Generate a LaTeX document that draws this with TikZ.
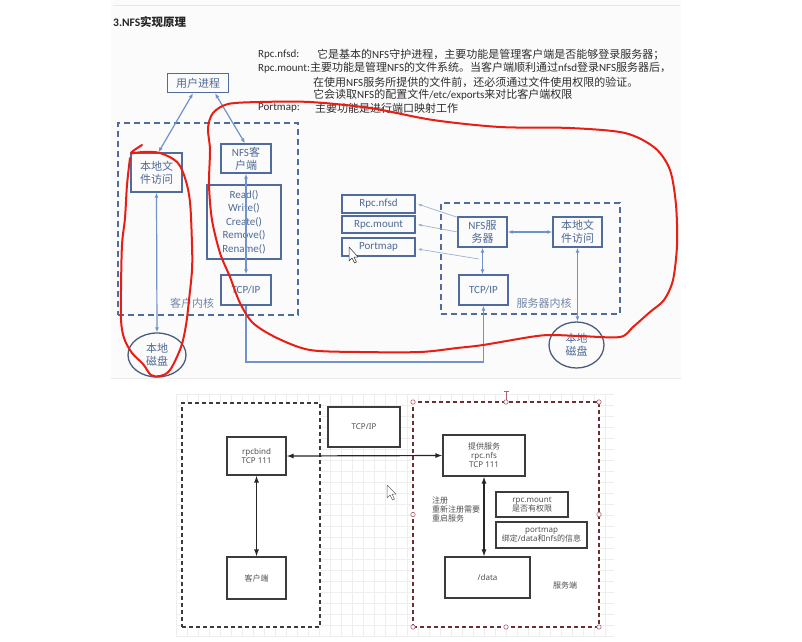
\documentclass[tikz,border=0pt]{standalone}
\usepackage{fontspec}
\setmainfont{Carlito}
\newfontfamily\cjkf{Noto Sans CJK SC}
\newfontfamily\nsf{Noto Sans}
\newcommand\zh[1]{{\cjkf #1}}
\usetikzlibrary{arrows.meta,shapes.geometric,calc}
\definecolor{tblue}{HTML}{4F6C9C}
\definecolor{ttext}{HTML}{4E6A96}
\definecolor{tline}{HTML}{6F93CA}
\definecolor{tthin}{HTML}{9DB2D2}
\definecolor{ellc}{HTML}{4B5D7D}
\definecolor{ktext}{HTML}{7386A6}
\definecolor{redpen}{HTML}{E81E14}
\definecolor{dgrey}{HTML}{3C3C3C}
\definecolor{gridc}{HTML}{EEEEEE}
\definecolor{selred}{HTML}{6A2E34}
\definecolor{handc}{HTML}{B06070}
\definecolor{txtg}{HTML}{505050}
\definecolor{topbg}{HTML}{FBFBFB}
\definecolor{topline}{HTML}{E0E8EE}
\begin{document}
\begin{tikzpicture}[x=1pt,y=-1pt,
  txt/.style={inner sep=0pt, text=black!82, font=\fontsize{11}{13}\selectfont},
  tbox/.style={draw=tblue, line width=1.4pt, inner sep=1pt, text=ttext, align=center, font=\fontsize{11}{13}\selectfont},
  tdisk/.style={draw=ellc, ellipse, line width=1.3pt, inner sep=0pt, text=ttext, align=center, font=\fontsize{11}{13}\selectfont},
  kern/.style={draw=tblue, line width=1.5pt, dash pattern=on 6pt off 4pt, inner sep=0pt},
  klab/.style={text=ktext, font=\fontsize{11}{13}\selectfont, inner sep=0pt},
  tarr/.style={draw=tline, line width=1.2pt, >={Latex[length=5pt,width=4pt]}},
  tthinarr/.style={draw=tthin, line width=0.7pt, ->, >={Latex[length=4pt,width=3pt]}},
  bbox/.style={draw=dgrey, line width=1.1pt, fill=white, inner sep=1pt, text=txtg, align=center, font=\nsf\fontsize{8}{9}\selectfont},
  barr/.style={<->, draw=black!85, line width=1.2pt, >={Latex[length=7pt,width=5pt]}},
  pen/.style={draw=redpen, line width=2pt, line cap=round, line join=round},
  cursor/.style={draw=black!80, fill=white, line width=0.5pt, line join=round}
]
\useasboundingbox (0,0) rectangle (802,641);
\fill[white] (0,0) rectangle (802,641);
% top screenshot
\fill[topbg] (111,0) rectangle (681,378);
\draw[topline] (113,5) -- (680,5);
\draw[black!8, line width=1pt] (111,378) -- (681,378);

\node[anchor=west, inner sep=0pt, text=black!85, font=\fontsize{11.5}{13}\selectfont\bfseries] (title) at (113,22) {3.NFS\zh{实现原理}};

\node[txt, anchor=west] (l1a) at (258,55) {Rpc.nfsd:};
\node[txt, anchor=west] (l1b) at (317,55) {\zh{它是基本的}NFS\zh{守护进程，主要功能是管理客户端是否能够登录服务器；}};
\node[txt, anchor=west] (l2) at (258,68) {Rpc.mount:\zh{主要功能是管理}NFS\zh{的文件系统。当客户端顺利通过}nfsd\zh{登录}NFS\zh{服务器后，}};
\node[txt, anchor=west] (l3) at (313,82) {\zh{在使用}NFS\zh{服务所提供的文件前，还必须通过文件使用权限的验证。}};
\node[txt, anchor=west] (l4) at (313,95) {\zh{它会读取}NFS\zh{的配置文件}/etc/exports\zh{来对比客户端权限}};
\node[txt, anchor=west] (l5a) at (258,108) {Portmap:};
\node[txt, anchor=west] (l5b) at (315,108) {\zh{主要功能是进行端口映射工作}};

% client side
\node[kern, minimum width=180, minimum height=192] (ck) at (208,219) {};
\node[klab] (cklab) at (192,303) {\zh{客户内核}};
\node[tbox, minimum width=61, minimum height=19] (user) at (198,83) {\zh{用户进程}};
\node[tbox, minimum width=51, minimum height=39] (lfa) at (156.5,172.5) {\zh{本地文}\\\zh{件访问}};
\node[tbox, minimum width=50, minimum height=29] (nfsc) at (246,158.5) {NFS\zh{客}\\\zh{户端}};
\node[tbox, minimum width=74, minimum height=74, font=\fontsize{11}{13.5}\selectfont] (ops) at (244,222) {Read()\\Write()\\Create()\\Remove()\\Rename()};
\node[tbox, minimum width=50, minimum height=30] (tcpc) at (246,290) {TCP/IP};
\node[tdisk, minimum width=58, minimum height=44] (disk1) at (157,355) {\zh{本地}\\\zh{磁盘}};

% server side
\node[kern, minimum width=179, minimum height=111] (sk) at (530.5,258.5) {};
\node[klab] (sklab) at (544,303) {\zh{服务器内核}};
\node[tbox, minimum width=73, minimum height=18] (rnfsd) at (378.5,204) {Rpc.nfsd};
\node[tbox, minimum width=73, minimum height=17] (rmount) at (378.5,224.5) {Rpc.mount};
\node[tbox, minimum width=73, minimum height=18] (rport) at (378.5,247) {Portmap};
\node[tbox, minimum width=49, minimum height=30] (nfss) at (482.5,232) {NFS\zh{服}\\\zh{务器}};
\node[tbox, minimum width=49, minimum height=30] (lfas) at (577.5,232) {\zh{本地文}\\\zh{件访问}};
\node[tbox, minimum width=49, minimum height=30] (tcps) at (483.5,290) {TCP/IP};
\node[tdisk, minimum width=55, minimum height=46] (disk2) at (576.5,345) {\zh{本地}\\\zh{磁盘}};

% top connectors
\draw[tarr, <->] ([xshift=-5pt]user.south) -- ([xshift=2pt]lfa.north);
\draw[tarr, <->] ([xshift=17pt]user.south) -- ([xshift=-1pt]nfsc.north);
\draw[tarr, <->] (lfa.south) -- (disk1.north);
\draw[tarr, <->] (nfsc.south) -- (tcpc.north);
\coordinate (bus) at (365,362);
\draw[tarr, ->] (tcpc.south) |- (bus) -| (tcps.south);
\draw[tarr, <->] (nfss.east) -- (lfas.west);
\draw[tarr, <->] (nfss.south) -- (nfss.south |- tcps.north);
\draw[tarr, <->] (lfas.south) -- (lfas.south |- disk2.north);
\draw[tthinarr] ([yshift=-1pt]nfss.north west) -- ([xshift=2pt]rnfsd.east);
\draw[tthinarr] (nfss.west) -- ([xshift=2pt]rmount.east);
\coordinate (pmstart) at (479,259);
\draw[tthinarr] (pmstart) -- ([xshift=2pt,yshift=-2pt]rport.east);

% cursor top
\draw[cursor] (349,247) -- (349,261) -- (352,258) -- (354.5,263) -- (356.5,262) -- (354,257) -- (358,257) -- cycle;

% bottom drawing: grid
\begin{scope}
\clip (176,394) rectangle (614,636);
\foreach \gx in {176,187,...,614} \draw[gridc, line width=0.6pt] (\gx,394) -- (\gx,636);
\foreach \gy in {394,405,...,636} \draw[gridc, line width=0.6pt] (176,\gy) -- (614,\gy);
\end{scope}

\node[draw=dgrey, fill=white, line width=1.2pt, dash pattern=on 4pt off 3pt, minimum width=138, minimum height=224, inner sep=0pt] (cbox) at (251,515) {};
\node[draw=selred, fill=white, line width=1.1pt, dash pattern=on 4pt off 3pt, minimum width=186, minimum height=225, inner sep=0pt] (sbox) at (506,514.5) {};
\foreach \hx/\hy in {413/402,506/402,599/402,413/514.5,599/514.5,413/627,506/627,599/627}
  \draw[handc, fill=white, line width=0.6pt] (\hx,\hy) circle[radius=2.2pt];
\draw[handc, line width=0.8pt] (506,391) -- (506,399.5) (503.5,391) -- (508.5,391);

\node[bbox, minimum width=72, minimum height=40] (tcp2) at (364,427) {TCP/IP};
\node[bbox, minimum width=59, minimum height=38] (rpcb) at (256.5,456) {rpcbind\\TCP 111};
\node[bbox, minimum width=59, minimum height=42] (cli) at (256.5,578) {\zh{客户端}};
\node[bbox, minimum width=82, minimum height=41] (serv) at (484,455.5) {\zh{提供服务}\\rpc.nfs\\TCP 111};
\node[bbox, minimum width=72, minimum height=25] (rpcm2) at (532,504.5) {rpc.mount\\\zh{是否有权限}};
\node[bbox, minimum width=91, minimum height=26] (pm2) at (541.5,535) {portmap\\\zh{绑定}/data\zh{和}nfs\zh{的信息}};
\node[bbox, minimum width=85, minimum height=41] (data) at (487.5,577.5) {/data};
\node[anchor=west, inner sep=0pt, align=left, text=txtg, font=\nsf\fontsize{8}{9}\selectfont] (reg) at (432,509) {\zh{注册}\\\zh{重新注册需要}\\\zh{重启服务}};
\node[inner sep=0pt, text=txtg, font=\nsf\fontsize{8}{9}\selectfont] (srvlab) at (565,585) {\zh{服务端}};

\draw[barr] (rpcb.east) -- (serv.west);
\draw[barr] (rpcb.south) -- (cli.north);
\draw[barr] (serv.south) -- (serv.south |- data.north);

% cursor bottom
\draw[cursor, draw=black!60] (387,485) -- (387,498) -- (390,495) -- (392.5,500) -- (394.5,499) -- (392,494) -- (396,494) -- cycle;

% red annotations
\draw[pen] plot[smooth, tension=0.55] coordinates {(142,145) (131,153) (143,152) (160,153) (177,162) (185,178) (190,202) (192,245) (192,270) (189,300) (186,325) (181,347) (170,370) (160,376) (151,375) (143,364) (132,353) (124,338) (121,320) (121,290) (122,245) (125,218) (127,185) (130,158)};
\draw[pen] plot[smooth cycle, tension=0.5] coordinates {(213,113) (228,104) (260,102) (310,102) (370,108) (433,120) (500,127) (570,128) (625,133) (655,148) (670,170) (676,205) (677,245) (673,280) (664,300) (650,312) (633,327) (620,337) (580,336) (550,335) (530,337) (483,345) (457,348) (420,352) (360,352) (310,350) (277,338) (253,323) (240,303) (230,277) (220,253) (212,220) (209,185) (210,150) (208,128)};
\end{tikzpicture}
\end{document}
